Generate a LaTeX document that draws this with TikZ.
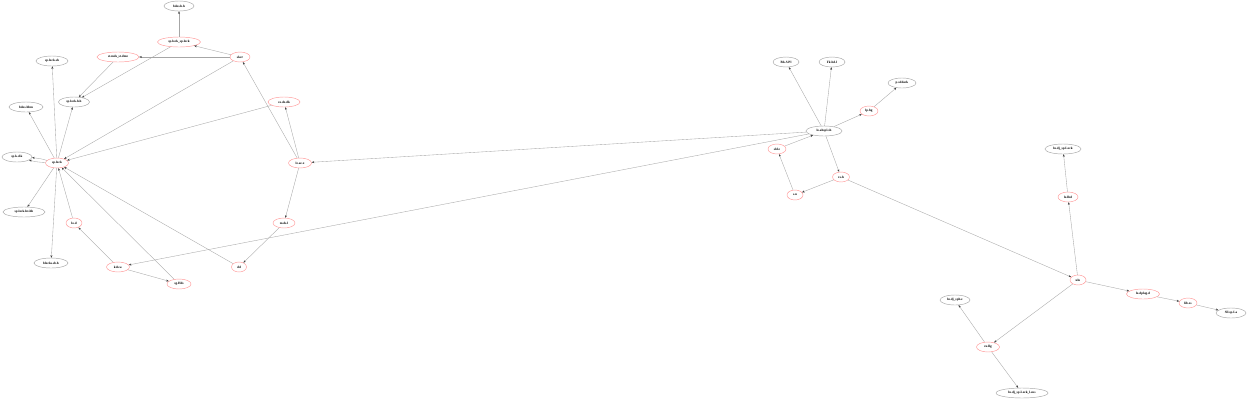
\documentclass[tikz,border=0pt]{standalone}
\usepackage{fontspec}
\setmainfont{Liberation Serif}
\usetikzlibrary{shapes.geometric,arrows.meta}
\begin{document}
\begin{tikzpicture}[x=1pt,y=-1pt,
  gnode/.style={ellipse,draw=black!35,line width=0.45pt,inner sep=0pt,minimum height=10pt,font=\bfseries\fontsize{3.3}{3.6}\selectfont},
  rnode/.style={gnode,draw=red!40},
  conn/.style={draw=black!35,line width=0.35pt,-{Stealth[length=2.6pt,width=2pt,black!75]}}]
\useasboundingbox (0,0) rectangle (1248,400);
\fill[white] (0,0) rectangle (1248,400);
% left cluster
\node[gnode,minimum width=30pt] (n1) at (179,6) {bdos.h.h};
\node[rnode,minimum width=43pt] (n2) at (179,42) {sp.lock\_sp.lock};
\node[rnode,minimum width=42pt] (n3) at (118,57) {st.mds\_st.dme};
\node[rnode,minimum width=20pt] (n4) at (240,57) {sker};
\node[gnode,minimum width=32pt] (n5) at (52,61) {sp.lock.sh};
\node[gnode,minimum width=31pt] (n6) at (74,102) {sp.lock.h.h};
\node[gnode,minimum width=34pt] (n7) at (26,107) {bdos.hbm};
\node[rnode,minimum width=32pt] (n8) at (284,102) {co.de.dk};
\node[rnode,minimum width=23pt] (n9) at (57,163) {sp.lock};
\node[gnode,minimum width=30pt] (n10) at (17,157) {sp.k.d.k};
\node[gnode,minimum width=42pt] (n11) at (24,212) {sp.lock.hx.hh};
\node[rnode,minimum width=16pt] (n12) at (74,223) {lo.d};
\node[gnode,minimum width=34pt] (n13) at (51,263) {blocks.sb.h};
\node[rnode,minimum width=23pt] (n14) at (118,267) {kds.w};
\node[rnode,minimum width=24pt] (n15) at (179,284) {sg.Hds};
\node[rnode,minimum width=15pt] (n16) at (239,267) {dd};
\node[rnode,minimum width=23pt] (n17) at (300,163) {le.ae.x};
\node[rnode,minimum width=22pt] (n18) at (284,223) {m.ds.l};
% middle cluster
\node[gnode,minimum width=26pt] (n19) at (786,62) {Bls.S.Pl};
\node[gnode,minimum width=26pt] (n20) at (832,62) {Fk.bd.l};
\node[gnode,minimum width=28pt] (n21) at (902,83) {p.sddack};
\node[rnode,minimum width=18pt] (n22) at (869,111) {lp.hg};
\node[gnode,minimum width=36pt] (n23) at (824,131) {lo.ahspl.sh};
\node[rnode,minimum width=18pt] (n24) at (777,149) {sld.e};
\node[rnode,minimum width=17pt] (n25) at (841,177) {r.s.h};
\node[rnode,minimum width=16pt] (n26) at (795,195) {s.n};
% right cluster
\node[gnode,minimum width=36pt] (n27) at (1063,149) {lu.dj\_sp.Lock};
\node[rnode,minimum width=20pt] (n28) at (1068,197) {lo.lhd};
\node[rnode,minimum width=16pt] (n29) at (1078,280) {ulu};
\node[rnode,minimum width=33pt] (n30) at (1143,294) {lo.dplag.d};
\node[rnode,minimum width=18pt] (n31) at (1188,303) {lib.es};
\node[gnode,minimum width=30pt] (n32) at (1231,313) {Sll.sp.La};
\node[gnode,minimum width=30pt] (n33) at (955,300) {lu.dj\_sph.e};
\node[rnode,minimum width=23pt] (n34) at (988,347) {cu.llg};
\node[gnode,minimum width=52pt] (n35) at (1022,393) {lu.dj\_sp.Lock\_l.sus};
% edges
\draw[conn] (n2) -- (n1);
\draw[conn] (n4) -- (n2);
\draw[conn] (n4) -- (n3);
\draw[conn] (n3) -- (n6);
\draw[conn] (n2) -- (n6);
\draw[conn] (n4) -- (n9);
\draw[conn] (n8) -- (n9);
\draw[conn] (n9) -- (n5);
\draw[conn] (n9) -- (n6);
\draw[conn] (n9) -- (n7);
\draw[conn] (n9) to[bend right=6] (n10);
\draw[conn] (n9) to[bend left=6] (n10);
\draw[conn] (n9) -- (n11);
\draw[conn] (n9) -- (n13);
\draw[conn] (n12) -- (n9);
\draw[conn] (n14) -- (n12);
\draw[conn] (n14) -- (n15);
\draw[conn] (n15) -- (n9);
\draw[conn] (n16) -- (n9);
\draw[conn] (n17) -- (n4);
\draw[conn] (n17) -- (n8);
\draw[conn] (n17) -- (n18);
\draw[conn] (n18) -- (n16);
\draw[conn] (n23) -- (n17);
\draw[conn] (n23) -- (n14);
\draw[conn] (n23) -- (n19);
\draw[conn] (n23) -- (n20);
\draw[conn] (n23) -- (n22);
\draw[conn] (n22) -- (n21);
\draw[conn] (n24) -- (n23);
\draw[conn] (n23) -- (n25);
\draw[conn] (n25) -- (n26);
\draw[conn] (n26) -- (n24);
\draw[conn] (n25) -- (n29);
\draw[conn] (n29) -- (n28);
\draw[conn] (n28) -- (n27);
\draw[conn] (n29) -- (n30);
\draw[conn] (n30) -- (n31);
\draw[conn] (n31) -- (n32);
\draw[conn] (n29) -- (n34);
\draw[conn] (n34) -- (n33);
\draw[conn] (n34) -- (n35);
\end{tikzpicture}
\end{document}
